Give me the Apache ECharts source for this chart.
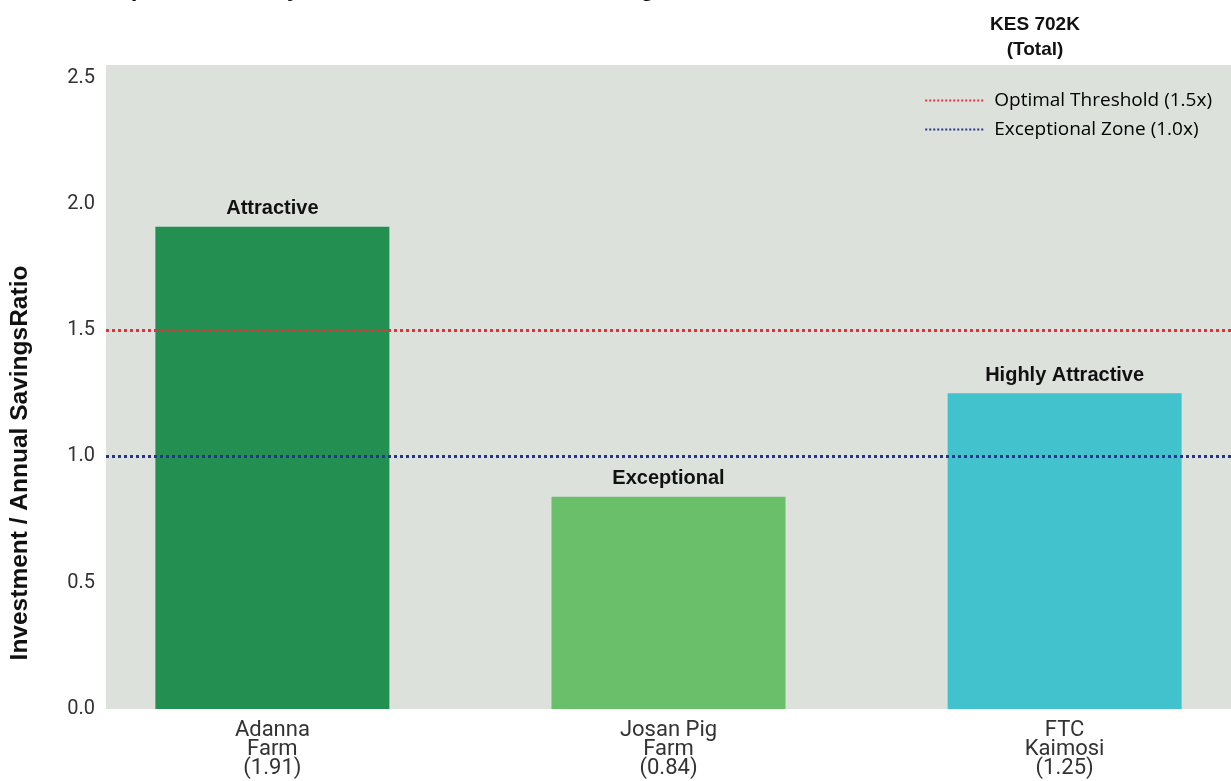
<!DOCTYPE html>
<html>
<head>
<meta charset="utf-8">
<script src="https://cdn.jsdelivr.net/npm/echarts@6/dist/echarts.min.js"></script>
<style>
  html, body { margin: 0; padding: 0; background: #fff; }
  #chart { width: 1231px; height: 781px; }
</style>
</head>
<body>
<div id="chart"></div>
<script>
// data
var farms = ['Adanna\nFarm\n(1.91)', 'Josan Pig\nFarm\n(0.84)', 'FTC\nKaimosi\n(1.25)']
var ratios = [1.91, 0.84, 1.25]
var ratings = ['Attractive', 'Exceptional', 'Highly Attractive']
var barColors = ['#239051', '#69bf6a', '#42c2cc']
var yTicks = [0, 0.5, 1.0, 1.5, 2.0, 2.5]
var thresholdNames = ['Optimal Threshold (1.5x)', 'Exceptional Zone (1.0x)']
var thresholdValues = [1.5, 1.0]
var thresholdColors = ['#e0323c', '#27348f']
var titleText = 'Capital Efficiency: Investment vs. Annual Savings Ratio'
var totalText = 'KES 702K\n(Total)'
var yTitle = 'Investment / Annual SavingsRatio'

var boldFont = 'Liberation Sans, Arial, sans-serif'

var chart = echarts.init(document.getElementById('chart'))

var barData = ratios.map(function (v, i) {
  return {
    value: [i, v],
    itemStyle: { color: barColors[i] },
    label: { formatter: ratings[i] }
  }
})

var lineSeries = thresholdNames.map(function (name, i) {
  return {
    name: name,
    type: 'line',
    data: [],
    symbol: 'none',
    lineStyle: { color: thresholdColors[i], width: 1, type: 'dotted' },
    itemStyle: { color: thresholdColors[i] },
    markLine: {
      silent: true,
      symbol: 'none',
      label: { show: false },
      lineStyle: { color: thresholdColors[i], width: 3, type: [3, 3] },
      data: [{ yAxis: thresholdValues[i] }]
    }
  }
})

var option = {
  animation: false,
  textStyle: { fontFamily: 'Roboto, sans-serif' },
  grid: {
    left: 106, right: 0, top: 65, bottom: 72,
    show: true,
    backgroundColor: '#dce1dc',
    borderWidth: 0
  },
  graphic: [
    {
      type: 'text', left: 100, top: -23,
      style: { text: titleText, font: 'bold 24px ' + boldFont, fill: '#111' }
    },
    {
      type: 'text', x: 1035, y: 12,
      style: {
        text: totalText, font: 'bold 19px ' + boldFont, fill: '#111',
        align: 'center', lineHeight: 25
      }
    },
    {
      type: 'text', x: 20, y: 463, rotation: Math.PI / 2,
      style: {
        text: yTitle, font: 'bold 24.5px ' + boldFont, fill: '#111',
        align: 'center', verticalAlign: 'middle'
      }
    }
  ],
  legend: {
    data: thresholdNames,
    orient: 'vertical',
    right: 14,
    top: 86,
    itemWidth: 60,
    itemHeight: 14,
    itemGap: 10,
    itemStyle: { opacity: 0 },
    textStyle: {
      fontSize: 19, fontWeight: 500, color: '#000', fontFamily: 'Open Sans, sans-serif',
      padding: [0, 0, 0, 4]
    }
  },
  xAxis: {
    type: 'value',
    min: -0.42,
    max: 2.42,
    splitLine: { show: false },
    axisLine: { show: false },
    axisTick: { show: false },
    axisLabel: {
      customValues: [0, 1, 2],
      formatter: function (v) { return farms[Math.round(v)] },
      fontFamily: 'Roboto, sans-serif',
      fontSize: 22,
      lineHeight: 19,
      color: '#333',
      margin: 12
    }
  },
  yAxis: {
    type: 'value',
    min: 0,
    max: 2.55,
    interval: 0.5,
    splitLine: { show: false },
    axisLine: { show: false },
    axisTick: { show: false },
    axisLabel: {
      showMaxLabel: false,
      formatter: function (v) { return yTicks.indexOf(v) >= 0 ? v.toFixed(1) : '' },
      fontFamily: 'Roboto, sans-serif',
      fontSize: 20,
      color: '#333',
      margin: 11
    }
  },
  series: [
    {
      type: 'bar',
      data: barData,
      barWidth: 234,
      label: {
        show: true,
        position: 'top',
        distance: 8,
        fontSize: 20,
        fontWeight: 'bold',
        color: '#111',
        fontFamily: boldFont
      }
    }
  ].concat(lineSeries)
}

chart.setOption(option)
</script>
</body>
</html>
